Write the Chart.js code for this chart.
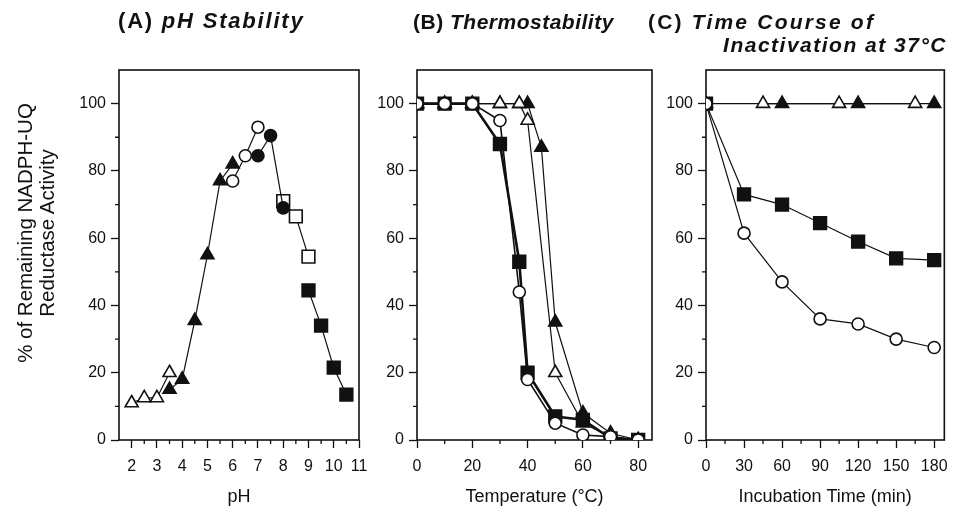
<!DOCTYPE html>
<html>
<head>
<meta charset="utf-8">
<script src="https://cdn.jsdelivr.net/npm/chart.js@4.4.0/dist/chart.umd.min.js"></script>
<style>
  body { margin: 0; background: #fff; }
  #wrap { position: relative; width: 957px; height: 521px; overflow: hidden; }
  canvas { position: absolute; left: 0; top: 0; }
  .ttl { position: absolute; font-family: "Liberation Sans", Arial, sans-serif; font-weight: bold;
         font-size: 21px; color: #111; white-space: nowrap; letter-spacing: 1.5px; line-height: 23px; }
  .ttl i { font-style: italic; }
  #ytitle { position: absolute; left: 36px; top: 233px; width: 0; height: 0; }
  #ytitle div { position: absolute; left: -160px; top: 0; width: 320px; height: 44px;
                transform: translateY(-22px) rotate(-90deg); transform-origin: 160px 22px;
                font-family: "Liberation Sans", Arial, sans-serif; font-size: 20.5px; line-height: 22px;
                text-align: center; color: #111; }
</style>
</head>
<body>
<div id="wrap">
  <canvas id="chartA" width="957" height="521"></canvas>
  <canvas id="chartB" width="957" height="521"></canvas>
  <canvas id="chartC" width="957" height="521"></canvas>
  <div class="ttl" style="left:118px; top:9px; font-size:22px; letter-spacing:1.8px;">(A) <i>pH Stability</i></div>
  <div class="ttl" style="left:413px; top:10px; letter-spacing:0.5px;">(B) <i>Thermostability</i></div>
  <div class="ttl" style="left:648px; top:10px; letter-spacing:2.2px;">(C) <i>Time Course of</i></div>
  <div class="ttl" style="right:10px; top:33px;"><i>Inactivation at 37°C</i></div>
  <div id="ytitle"><div>% of Remaining NADPH-UQ<br>Reductase Activity</div></div>
</div>
<script>
// ---- (A) pH stability ----
var phOpenTriX = [2, 2.5, 3, 3.5];
var phOpenTriY = [11, 12.5, 12.5, 20];
var phTriX = [3.5, 4, 4.5, 5, 5.5, 6];
var phTriY = [15, 18, 35.5, 55, 77, 82];
var phOpenCircX = [6, 6.5, 7];
var phOpenCircY = [77, 84.5, 93];
var phCircX = [7, 7.5, 8];
var phCircY = [84.5, 90.5, 69];
var phOpenSqX = [8, 8.5, 9];
var phOpenSqY = [71, 66.5, 54.5];
var phSqX = [9, 9.5, 10, 10.5];
var phSqY = [44.5, 34, 21.5, 13.5];
var phTicks = [2, 3, 4, 5, 6, 7, 8, 9, 10, 11];
var phMinor = [2.5, 3.5, 4.5, 5.5, 6.5, 7.5, 8.5, 9.5, 10.5];

// ---- (B) thermostability ----
var tempX = [0, 10, 20, 30, 37, 40, 50, 60, 70, 80];
var tempOpenCirc = [100, 100, 100, 95, 44, 18, 5, 1.5, 1, 0];
var tempSq = [100, 100, 100, 88, 53, 20, 7, 6, 0.5, 0];
var tempOpenTri = [100, 100, 100, 100, 100, 95, 20, 5, 1, 0];
var tempTriX = [0, 10, 20, 30, 37, 40, 45, 50, 60, 70, 80];
var tempTri = [100, 100, 100, 100, 100, 100, 87, 35, 8, 2, 0];
var tempTicks = [0, 20, 40, 60, 80];
var tempMinor = [10, 30, 50, 70];

// ---- (C) time course at 37C ----
var timeX = [0, 30, 60, 90, 120, 150, 180];
var timeSq = [100, 73, 70, 64.5, 59, 54, 53.5];
var timeOpenCirc = [100, 61.5, 47, 36, 34.5, 30, 27.5];
var timeTriX = [0, 60, 120, 180];
var timeTri = [100, 100, 100, 100];
var timeOpenTriX = [45, 105, 165];
var timeOpenTri = [100, 100, 100];
var timeTicks = [0, 30, 60, 90, 120, 150, 180];
var timeMinor = [15, 45, 75, 105, 135, 165];

// ---- shared y axis ----
var pctTicks = [0, 20, 40, 60, 80, 100];
var pctMinor = [10, 30, 50, 70, 90];

var INK = '#111';
var FAMILY = "'Liberation Sans', Arial, sans-serif";
var tickFont = { family: FAMILY, size: 16 };

function ds(xs, ys, shape, filled, lineW) {
  return {
    data: xs.map(function (x, i) { return { x: x, y: ys[i] }; }),
    pointStyle: shape,
    pointRadius: shape === 'rect' ? 9 : (shape === 'triangle' ? 7.5 : 6),
    pointBackgroundColor: filled ? INK : '#fff',
    pointBorderColor: INK,
    pointBorderWidth: 1.6,
    borderColor: INK,
    borderWidth: lineW || 1.2,
    showLine: true,
    tension: 0
  };
}

// frame box + short minor ticks, placed with the chart's own scales
var frameMinor = {
  id: 'frameMinor',
  beforeDatasetsDraw: function (chart, args, opts) {
    var ctx = chart.ctx, a = chart.chartArea, sx = chart.scales.x, sy = chart.scales.y;
    ctx.save();
    ctx.strokeStyle = INK;
    ctx.lineWidth = 1.6;
    ctx.strokeRect(a.left, a.top, a.right - a.left, a.bottom - a.top);
    ctx.lineWidth = 1.3;
    ctx.beginPath();
    opts.x.forEach(function (v) {
      var px = sx.getPixelForValue(v);
      ctx.moveTo(px, a.bottom); ctx.lineTo(px, a.bottom + 4);
    });
    pctMinor.forEach(function (v) {
      var py = sy.getPixelForValue(v);
      ctx.moveTo(a.left, py); ctx.lineTo(a.left - 4, py);
    });
    ctx.stroke();
    ctx.restore();
  }
};

function fixedTicks(list) {
  return function (s) { s.ticks = list.map(function (v) { return { value: v }; }); };
}

function yAxis(width) {
  return {
    type: 'linear', min: 0, max: 110,
    afterBuildTicks: fixedTicks(pctTicks),
    ticks: { padding: 5, color: INK, font: tickFont },
    grid: { drawOnChartArea: false, tickLength: 8, tickWidth: 1.3, tickColor: INK },
    border: { display: false },
    afterFit: function (s) { s.width = width; }
  };
}

function xAxis(min, max, ticks, title) {
  return {
    type: 'linear', min: min, max: max,
    afterBuildTicks: fixedTicks(ticks),
    ticks: { padding: 9, color: INK, font: tickFont, autoSkip: false, maxRotation: 0 },
    grid: { drawOnChartArea: false, tickLength: 8, tickWidth: 1.3, tickColor: INK },
    border: { display: false },
    title: { display: true, text: title, color: INK, font: { family: FAMILY, size: 18, lineHeight: '20px' },
             padding: { top: 0, bottom: 14 } },
    afterFit: function (s) { s.height = 81; }
  };
}

function panel(id, datasets, pad, yW, xs, minor) {
  return new Chart(document.getElementById(id), {
    type: 'scatter',
    data: { datasets: datasets },
    options: {
      responsive: false, animation: false,
      layout: { padding: { left: pad[0], right: pad[1], top: 70, bottom: 0 } },
      plugins: { legend: { display: false }, tooltip: { enabled: false }, frameMinor: { x: minor } },
      scales: { x: xs, y: yAxis(yW) }
    },
    plugins: [frameMinor]
  });
}

panel('chartA', [
  ds(phOpenTriX, phOpenTriY, 'triangle', false),
  ds(phTriX, phTriY, 'triangle', true),
  ds(phOpenCircX, phOpenCircY, 'circle', false),
  ds(phCircX, phCircY, 'circle', true),
  ds(phOpenSqX, phOpenSqY, 'rect', false),
  ds(phSqX, phSqY, 'rect', true)
], [64, 598], 55, xAxis(1.5, 11, phTicks, 'pH'), phMinor);

panel('chartB', [
  ds(tempX, tempOpenCirc, 'circle', false, 1.6),
  ds(tempX, tempSq, 'rect', true, 2.6),
  ds(tempX, tempOpenTri, 'triangle', false),
  ds(tempTriX, tempTri, 'triangle', true)
], [376, 305], 41, xAxis(0, 85, tempTicks, 'Temperature (°C)'), tempMinor);

panel('chartC', [
  ds(timeX, timeOpenCirc, 'circle', false),
  ds(timeX, timeSq, 'rect', true),
  ds(timeOpenTriX, timeOpenTri, 'triangle', false),
  ds(timeTriX, timeTri, 'triangle', true)
], [665, 11], 41, xAxis(0, 188, timeTicks, 'Incubation Time (min)'), timeMinor);
</script>
</body>
</html>
